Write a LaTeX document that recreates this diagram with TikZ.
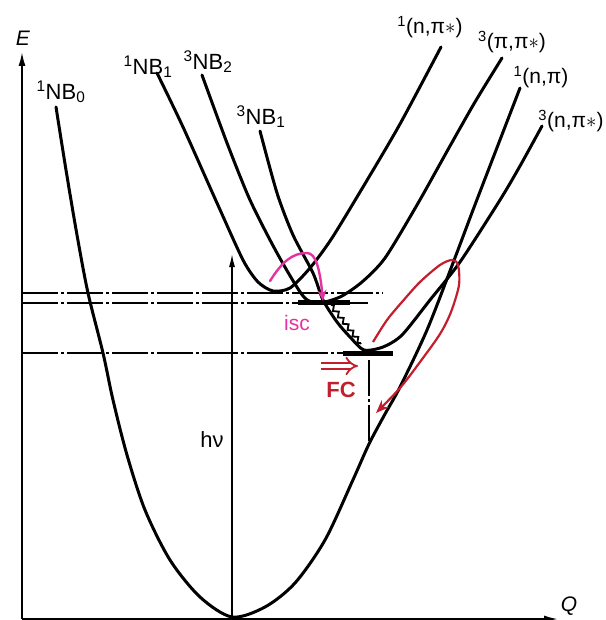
\documentclass[tikz,border=0pt]{standalone}
\usepackage{fontspec}
\setmainfont{Liberation Sans}
\usetikzlibrary{arrows.meta,decorations.pathmorphing}
\definecolor{fcred}{RGB}{195,30,45}
\definecolor{iscpink}{RGB}{230,50,160}
\begin{document}
\begin{tikzpicture}[x=1pt,y=-1pt,
  curve/.style={line width=3pt, line join=round, line cap=round},
  axis/.style={line width=1.8pt, -{Latex[length=14pt,width=7pt]}},
  dd/.style={line width=1.8pt, dash pattern=on 36pt off 3pt on 3pt off 3pt},
  bar/.style={line width=5pt},
  lab/.style={inner sep=0pt, font=\fontsize{22}{25}\selectfont},
  plab/.style={inner sep=0pt, font=\fontsize{21}{24}\selectfont},
]
\useasboundingbox (0,0) rectangle (605,620);

% axes
\coordinate (O) at (22,619);
\coordinate (Etop) at (22,52);
\coordinate (Qend) at (558,619);
\draw[axis] (O) -- (Etop);
\draw[axis] (O) -- (Qend);
\node[lab, font=\fontsize{21}{24}\selectfont\itshape] (E) at (23,38) {E};
\node[lab, font=\fontsize{21}{24}\selectfont\itshape] (Q) at (569,606) {Q};

% dash-dot levels
\coordinate (l1a) at (22,293); \coordinate (l1b) at (383,293);
\coordinate (l2a) at (22,303); \coordinate (l2b) at (368,303);
\coordinate (l3a) at (22,353); \coordinate (l3b) at (393,353);
\coordinate (v1a) at (369,360); \coordinate (v1b) at (369,442);
\draw[dd] (l1a) -- (l1b);
\draw[dd] (l2a) -- (l2b);
\draw[dd] (l3a) -- (l3b);
\draw[dd] (v1a) -- (v1b);

% level bars
\coordinate (b1a) at (298,302); \coordinate (b1b) at (350,302);
\coordinate (b2a) at (343,353); \coordinate (b2b) at (393,353);
\draw[bar] (b1a) -- (b1b);
\draw[bar] (b2a) -- (b2b);

% h nu arrow
\coordinate (hvb) at (232,617);
\coordinate (hvt) at (232,254);
\draw[line width=1.4pt, -{Latex[length=13pt,width=6pt]}] (hvb) -- (hvt);
\node[lab] (hv) at (212,440) {hν};

% ground state 1NB0 -> 1(n,pi)
\draw[curve] plot[smooth, tension=0.5] coordinates {
 (56,107) (66,170) (77,235) (88,293) (103,353) (113,400) (127,455)
 (145,510) (170,560) (200,597) (232,617) (265,607) (295,583) (325,540)
 (352,482) (369,444) (385,414) (400,387) (427,330) (453,263) (473,210)
 (493,158) (520,88)};

% 1NB1 -> 1(n,pi*)
\draw[curve] plot[smooth, tension=0.45] coordinates {
 (157,73) (183,127) (217,203) (243,260) (258,282) (273,291) (290,288)
 (310,268) (332,238) (366,182) (400,124) (441,47)};

% 3NB2 -> 3(pi,pi*)
\draw[curve] plot[smooth, tension=0.45] coordinates {
 (202,75) (227,143) (250,200) (277,253) (303,296) (318,303) (340,297)
 (362,282) (385,258) (417,205) (450,146) (475,102) (502,58)};

% 3NB1 -> 3(n,pi*)
\draw[curve] plot[smooth, tension=0.45] coordinates {
 (260,131) (277,193) (293,235) (313,273) (323,300) (337,322) (350,337)
 (364,350) (383,347) (402,335) (430,300) (460,262) (500,200) (520,166)
 (542,126)};

% wavy relaxation line
\coordinate (w1) at (331,305); \coordinate (w2) at (361,344);
\draw[line width=1.8pt, decorate, decoration={zigzag, segment length=8pt, amplitude=2.2pt}] (w1) -- (w2);

% labels
\node[lab] (nb0) at (61,92) {\textsuperscript{1}NB\textsubscript{0}};
\node[lab] (nb1) at (148,67) {\textsuperscript{1}NB\textsubscript{1}};
\node[lab] (nb2) at (208,62) {\textsuperscript{3}NB\textsubscript{2}};
\node[lab] (nb3) at (261,117) {\textsuperscript{3}NB\textsubscript{1}};
\node[plab] (s1) at (430,27) {\textsuperscript{1}(n,π$\ast$)};
\node[plab] (s2) at (512,42) {\textsuperscript{3}(π,π$\ast$)};
\node[plab] (s3) at (541,77) {\textsuperscript{1}(n,π)};
\node[plab] (s4) at (571,121) {\textsuperscript{3}(n,π$\ast$)};

% isc arrow
\coordinate (i1) at (270,281);
\coordinate (i2) at (323,301);
\draw[iscpink, line width=2.4pt, line cap=round, -{Stealth[length=11pt,width=9pt]}]
  (i1) .. controls (282,262) and (292,253) .. (307,253)
  .. controls (316,253) and (320,270) .. (i2);
\node[plab, text=iscpink] (isc) at (297,323) {isc};

% FC
\coordinate (f1) at (321,366); \coordinate (f2) at (358,366);
\draw[fcred, line width=1.8pt, double, double distance=4.5pt, -{Implies}] (f1) -- (f2);
\node[lab, text=fcred, font=\fontsize{22}{25}\selectfont\bfseries] (fc) at (341,390) {FC};

% red loop
\coordinate (r1) at (373,342);
\coordinate (r2) at (375,414);
\draw[fcred, line width=2.2pt, line join=round, -{Stealth[length=13pt,width=10pt]}]
  plot[smooth, tension=0.5] coordinates {
  (373,342) (387,320) (402,302) (420,282) (440,265) (452,260) (458,265)
  (459,285) (451,312) (440,334) (420,362) (400,388) (376,413)};
\end{tikzpicture}
\end{document}
